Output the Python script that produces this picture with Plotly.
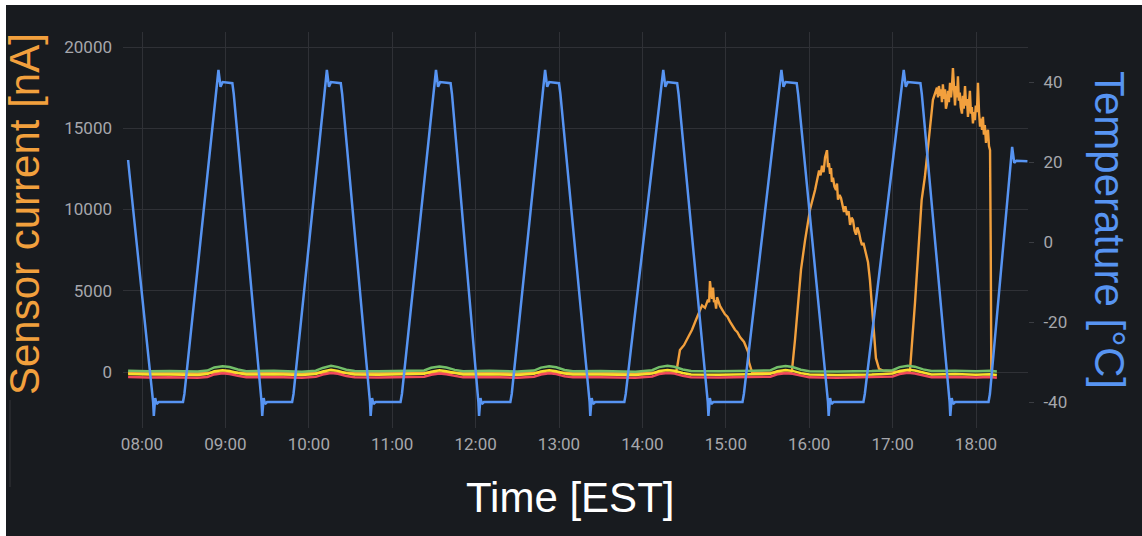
import plotly.graph_objects as go

DAY = "2024-01-01 "

# ---- Temperature (right axis, deg C) ----
temp_time = [
    "07:50:00", "07:51:00", "08:08:00", "08:08:30", "08:09:30", "08:10:30", "08:12:00", "08:29:30", "08:30:30",
    "08:54:00", "08:55:00", "08:56:30", "08:58:00", "09:05:00", "09:06:00",
    "09:26:00", "09:26:30", "09:27:30", "09:28:30", "09:30:00", "09:48:00", "09:49:00",
    "10:12:00", "10:13:00", "10:14:30", "10:16:00", "10:23:00", "10:24:00",
    "10:44:00", "10:44:30", "10:45:30", "10:46:30", "10:48:00", "11:06:00", "11:07:00",
    "11:30:30", "11:31:30", "11:33:00", "11:34:30", "11:42:00", "11:43:00",
    "12:02:00", "12:02:30", "12:03:30", "12:04:30", "12:06:00", "12:25:00", "12:26:00",
    "12:49:00", "12:50:00", "12:51:30", "12:53:00", "13:00:00", "13:01:00",
    "13:22:00", "13:22:30", "13:23:30", "13:24:30", "13:26:00", "13:47:00", "13:48:00",
    "14:14:00", "14:15:00", "14:16:30", "14:18:00", "14:25:00", "14:26:00",
    "14:47:00", "14:47:30", "14:48:30", "14:49:30", "14:51:00", "15:12:00", "15:13:00",
    "15:39:00", "15:40:00", "15:41:30", "15:43:00", "15:51:00", "15:52:00",
    "16:13:30", "16:14:00", "16:15:00", "16:16:00", "16:17:30", "16:39:00", "16:40:00",
    "17:07:00", "17:08:00", "17:09:30", "17:11:00", "17:20:00", "17:21:00",
    "17:41:00", "17:41:30", "17:42:30", "17:43:30", "17:45:00", "18:09:00", "18:10:00",
    "18:25:30", "18:26:00", "18:27:30", "18:29:00", "18:37:00",
]
temp_vals = [
    20.5, 17, -40, -43.5, -39, -40.5, -40, -40, -38,
    41, 43, 38.8, 40, 39.7, 37,
    -40, -43.5, -39, -40.5, -40, -40, -38,
    41, 43, 38.8, 40, 39.7, 37,
    -40, -43.5, -39, -40.5, -40, -40, -38,
    41, 43, 38.8, 40, 39.7, 37,
    -40, -43.5, -39, -40.5, -40, -40, -38,
    41, 43, 38.8, 40, 39.7, 37,
    -40, -43.5, -39, -40.5, -40, -40, -38,
    41, 43, 38.8, 40, 39.7, 37,
    -40, -43.5, -39, -40.5, -40, -40, -38,
    41, 43, 38.8, 40, 39.7, 37,
    -40, -43.5, -39, -40.5, -40, -40, -38,
    41, 43, 38.8, 40, 39.7, 37,
    -40, -43.5, -39, -40.5, -40, -40, -38,
    22, 23.8, 19.8, 20.3, 20.2,
]

# ---- Sensor current, orange series (left axis, nA) ----
orange_time = [
    "07:50:00", "14:24:00",
    "14:24:54", "14:27:00", "14:29:54", "14:32:48", "14:35:42", "14:38:30", "14:40:42", "14:42:54",
    "14:45:00", "14:47:12", "14:48:00", "14:48:36", "14:49:24", "14:50:06", "14:50:48", "14:51:30",
    "14:52:18", "14:53:00", "14:53:42", "14:55:54",
    "14:59:24", "15:01:10", "15:03:00", "15:06:36", "15:08:20", "15:10:12", "15:13:06", "15:14:30",
    "15:16:00", "15:16:42", "15:18:06", "15:19:00",
    "15:47:00",
    "15:47:36", "15:49:48", "15:51:54", "15:54:06", "15:57:00", "16:00:36", "16:04:12", "16:07:06",
    "16:08:10", "16:09:12", "16:10:20", "16:11:24", "16:12:48", "16:13:30", "16:14:12", "16:15:00",
    "16:15:42", "16:16:20", "16:17:06", "16:18:10", "16:19:18", "16:20:00", "16:20:42", "16:21:50",
    "16:22:54", "16:24:00", "16:25:00", "16:26:00", "16:27:12", "16:28:20", "16:29:24", "16:30:30",
    "16:31:30", "16:32:40", "16:33:42", "16:34:40", "16:35:48", "16:37:00", "16:38:00", "16:39:00",
    "16:40:06", "16:41:10", "16:42:18", "16:43:42", "16:45:12", "16:46:36", "16:48:00", "16:50:12",
    "16:53:06",
    "17:12:00",
    "17:12:30", "17:16:06", "17:19:42", "17:20:54", "17:23:12", "17:26:54", "17:29:00", "17:31:54",
    "17:32:40", "17:33:20", "17:34:06", "17:34:50", "17:35:30", "17:36:10", "17:37:00", "17:37:42",
    "17:38:20", "17:39:06", "17:39:50", "17:40:30", "17:41:18", "17:42:00", "17:42:40", "17:43:24",
    "17:44:10", "17:44:54", "17:45:40", "17:46:20", "17:47:00", "17:47:40", "17:48:20", "17:49:00",
    "17:49:54", "17:50:30", "17:51:10", "17:52:06", "17:52:50", "17:53:30", "17:54:12", "17:54:50",
    "17:55:36", "17:56:20", "17:57:00", "17:57:48", "17:58:30", "17:59:10", "17:59:50", "18:00:40",
    "18:01:24", "18:02:10", "18:02:54", "18:03:40", "18:04:20", "18:05:00", "18:05:40", "18:06:20",
    "18:07:12", "18:07:50", "18:08:36", "18:09:20", "18:10:06", "18:10:36", "18:11:00", "18:12:00",
]
orange_vals = [
    -50, -50,
    250, 1350, 1650, 2100, 2600, 3200, 3700, 4100,
    3950, 4450, 4300, 5600, 4900, 4500, 5200, 4300,
    4400, 3900, 4600, 4050,
    3550, 3400, 3100, 2600, 2450, 2150, 1850, 1600,
    1250, 600, 100, -50,
    -50,
    100, 2000, 4400, 6300, 8100, 10000, 11200, 12400,
    12100, 12700, 12300, 13200, 13650, 12600, 12850, 12200,
    12550, 11700, 11950, 11400, 11200, 11600, 10600, 10900,
    10700, 10100, 9850, 10200, 9650, 9900, 9050, 9500,
    9350, 8700, 8450, 8900, 8600, 8100, 7800, 7950,
    7500, 7200, 6750, 5650, 4100, 2300, 850, 200,
    80,
    -50,
    100, 4250, 8550, 10600, 12000, 15100, 16750, 17500,
    16900, 17600, 17000, 17400, 16600, 17700, 16800, 17400,
    16200, 16500, 17300, 16600, 17800, 16900, 17500, 18700,
    17200, 16400, 17600, 16900, 18200, 16700, 17200, 16300,
    15900, 17000, 16200, 17600, 16400, 16800, 15700, 16600,
    17300, 15900, 16300, 15300, 16000, 15500, 16400, 16000,
    17800, 16000, 15100, 15600, 14900, 15700, 14600, 15200,
    14100, 14700, 14900, 13900, 13650, 7500, 100, -50,
]

# ---- Sensor current, baseline series (green, yellow, red) ----
base_time = [
    "07:50", "08:05", "08:20", "08:40", "08:47", "08:52", "08:58", "09:03", "09:09", "09:15",
    "09:35", "09:55", "10:05", "10:10", "10:16", "10:21", "10:27", "10:33",
    "10:50", "11:10", "11:23", "11:28", "11:34", "11:39", "11:45", "11:51",
    "12:10", "12:30", "12:42", "12:47", "12:53", "12:58", "13:04", "13:10",
    "13:30", "13:55", "14:07", "14:12", "14:18", "14:23", "14:29", "14:35",
    "14:55", "15:20", "15:32", "15:37", "15:43", "15:48", "15:54", "16:00",
    "16:20", "16:45", "17:00", "17:05", "17:11", "17:16", "17:22", "17:28",
    "17:45", "18:00", "18:10", "18:15",
]
green_vals = [
    80, 40, 60, 30, 90, 280, 360, 310, 150, 50,
    70, 20, 80, 250, 380, 300, 140, 60,
    40, 60, 100, 260, 340, 280, 130, 40,
    70, 30, 90, 270, 350, 290, 120, 50,
    60, 20, 110, 300, 380, 320, 150, 60,
    40, 70, 100, 290, 370, 310, 140, 50,
    30, 60, 110, 300, 390, 330, 160, 60,
    80, 40, 70, 30,
]
yellow_vals = [
    -120, -160, -150, -180, -130, 50, 110, 60, -60, -150,
    -140, -180, -120, 30, 130, 70, -70, -150,
    -170, -150, -110, 20, 100, 40, -80, -160,
    -140, -180, -110, 40, 110, 50, -90, -160,
    -150, -180, -100, 60, 130, 80, -60, -150,
    -170, -140, -110, 50, 120, 70, -70, -160,
    -180, -150, -100, 60, 140, 90, -50, -150,
    -130, -170, -140, -180,
]
red_vals = [
    -300, -340, -320, -350, -310, -150, -80, -120, -230, -320,
    -310, -350, -300, -160, -60, -110, -240, -320,
    -340, -320, -290, -170, -90, -140, -250, -330,
    -310, -350, -290, -150, -80, -130, -260, -330,
    -320, -350, -280, -130, -60, -100, -230, -320,
    -340, -310, -290, -140, -70, -110, -240, -330,
    -350, -320, -280, -130, -50, -90, -220, -320,
    -300, -340, -310, -360,
]

hour_ticks = ["08:00", "09:00", "10:00", "11:00", "12:00", "13:00", "14:00", "15:00", "16:00", "17:00", "18:00"]
left_ticks = [0, 5000, 10000, 15000, 20000]
right_ticks = [-40, -20, 0, 20, 40]

BG = "#181b1f"
GRID = "#2f3136"
TICKC = "#a6a7ac"
BLUE = "#5794F2"
ORANGE = "#F2A03D"
GREEN = "#73BF69"
YELLOW = "#FADE2A"
RED = "#F2495C"

fig = go.Figure()
fig.add_trace(go.Scatter(x=[DAY + t for t in orange_time], y=orange_vals, mode="lines",
                         line=dict(color=ORANGE, width=2.4), yaxis="y"))
fig.add_trace(go.Scatter(x=[DAY + t for t in base_time], y=red_vals, mode="lines",
                         line=dict(color=RED, width=2.5), yaxis="y"))
fig.add_trace(go.Scatter(x=[DAY + t for t in base_time], y=yellow_vals, mode="lines",
                         line=dict(color=YELLOW, width=2.5), yaxis="y"))
fig.add_trace(go.Scatter(x=[DAY + t for t in base_time], y=green_vals, mode="lines",
                         line=dict(color=GREEN, width=2.5), yaxis="y"))
fig.add_trace(go.Scatter(x=[DAY + t for t in temp_time], y=temp_vals, mode="lines",
                         line=dict(color=BLUE, width=2.5), yaxis="y2"))

W, H = 1142, 536
L, R, T, B = 123, 1028, 32, 428
pw, ph = R - L, B - T

def px(x):
    return (x - L) / pw

def py(y):
    return (B - y) / ph

fig.update_layout(
    width=W, height=H,
    margin=dict(l=L, r=W - R, t=T, b=H - B, pad=0),
    paper_bgcolor="white",
    plot_bgcolor=BG,
    showlegend=False,
    xaxis=dict(
        type="date",
        range=[DAY + "07:46:20", DAY + "18:37:24"],
        tickvals=[DAY + t for t in hour_ticks],
        ticktext=hour_ticks,
        showgrid=True, gridcolor=GRID, gridwidth=1,
        zeroline=False, showline=False, ticks="",
        tickfont=dict(family="Roboto", size=17, color=TICKC),
        ticklabelstandoff=4,
    ),
    yaxis=dict(
        range=[-3446, 20923],
        tickvals=left_ticks,
        ticktext=[str(v) for v in left_ticks],
        showgrid=True, gridcolor=GRID, gridwidth=1,
        zeroline=False, showline=False, ticks="",
        tickfont=dict(family="Roboto", size=17, color=TICKC),
        ticklabelstandoff=10,
    ),
    yaxis2=dict(
        range=[-46.5, 52.5],
        tickvals=right_ticks,
        ticktext=[str(v) for v in right_ticks],
        overlaying="y", side="right",
        showgrid=False, zeroline=False, showline=False,
        ticks="outside", ticklen=5, tickcolor="#3a3d42", tickwidth=1,
        tickfont=dict(family="Roboto", size=17, color=TICKC),
        ticklabelstandoff=6,
    ),
    shapes=[
        dict(type="rect", xref="paper", yref="paper", layer="below",
             x0=px(6), x1=px(W + 2), y0=py(H + 2), y1=py(5),
             fillcolor=BG, line=dict(width=0)),
        dict(type="line", xref="paper", yref="paper", layer="below",
             x0=px(10), x1=px(10), y0=py(400), y1=py(487),
             line=dict(color="#26282c", width=2)),
    ],
    annotations=[
        dict(text="Sensor current [nA]", xref="paper", yref="paper",
             x=px(25), y=py(214), xanchor="center", yanchor="middle",
             textangle=-90, showarrow=False,
             font=dict(family="Liberation Sans", size=42, color=ORANGE)),
        dict(text="Temperature [°C]", xref="paper", yref="paper",
             x=px(1110), y=py(230), xanchor="center", yanchor="middle",
             textangle=90, showarrow=False,
             font=dict(family="Liberation Sans", size=42, color=BLUE)),
        dict(text="Time [EST]", xref="paper", yref="paper",
             x=px(570), y=py(497), xanchor="center", yanchor="middle",
             showarrow=False,
             font=dict(family="Liberation Sans", size=42, color="white")),
    ],
)

fig.write_html("out.html", config={"displayModeBar": False},
               post_script="document.body.style.margin='0px';document.body.style.overflow='hidden';")
